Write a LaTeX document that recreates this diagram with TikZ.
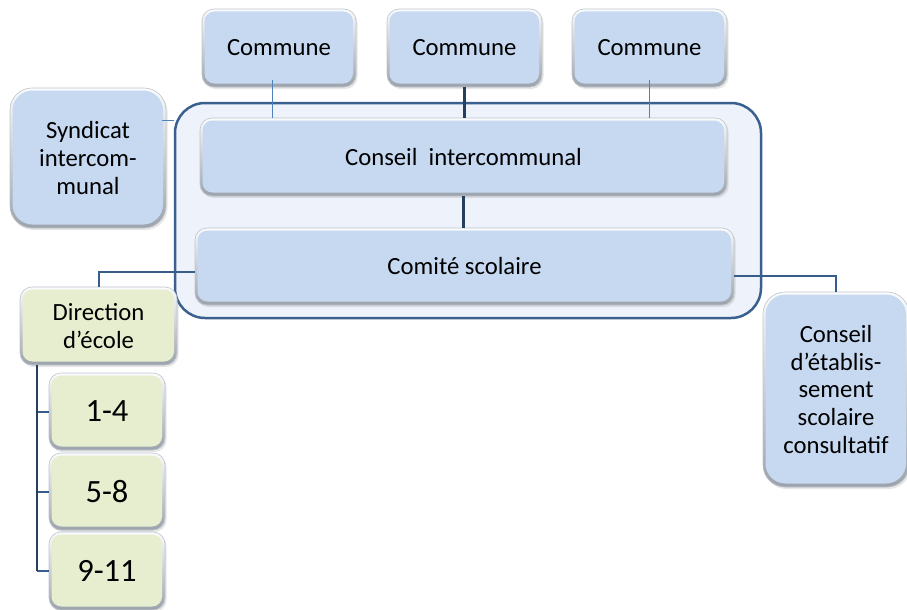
\documentclass[tikz,border=0pt]{standalone}
\usepackage{fontspec}
\setmainfont{Carlito}
\usetikzlibrary{shadows}
\definecolor{bluefill}{HTML}{C6D9F1}
\definecolor{greenfill}{HTML}{E6EECF}
\definecolor{rimtop}{HTML}{FAFBFC}
\definecolor{rimbot}{HTML}{9CA3AC}
\definecolor{rimline}{HTML}{BEC4CC}
\definecolor{contfill}{HTML}{EEF2FA}
\definecolor{contline}{HTML}{3A6090}
\definecolor{darkline}{HTML}{243F60}
\definecolor{thinblue}{HTML}{4F81BD}
\definecolor{midline}{HTML}{385D8A}
\begin{document}
\begin{tikzpicture}[x=1pt,y=-1pt,
  bev/.style n args={3}{rounded corners=#1, top color=rimtop, bottom color=rimbot,
    draw=rimline, line width=0.6pt, inner sep=0pt, align=center,
    font=\fontsize{24.7}{27.7}\selectfont,
    drop shadow={shadow xshift=1.5pt, shadow yshift=-2pt, opacity=0.2},
    path picture={\fill[#3, rounded corners=#2]
      ([shift={(2.5pt,-2.5pt)}]path picture bounding box.north west) rectangle
      ([shift={(-3pt,3.5pt)}]path picture bounding box.south east);}},
  bluebox/.style={bev={12pt}{10pt}{bluefill}},
  bigblue/.style={bev={22pt}{20pt}{bluefill}},
  greenbox/.style={bev={12pt}{10pt}{greenfill}},
  thinc/.style={draw=thinblue, line width=1pt},
  thickc/.style={draw=darkline, line width=3pt},
  midc/.style={draw=midline, line width=2pt},
  treec/.style={draw=darkline, line width=2.5pt},
]
\useasboundingbox (0,0) rectangle (907,610);

% container
\node[draw=contline, fill=contfill, line width=2.5pt, rounded corners=30pt,
  minimum width=586pt, minimum height=215pt, inner sep=0pt] (cont) at (468,210.5) {};

% communes
\node[bluebox, minimum width=154pt, minimum height=78pt] (c1) at (279,48) {Commune};
\node[bluebox, minimum width=155pt, minimum height=78pt] (c2) at (464.5,48) {Commune};
\node[bluebox, minimum width=155pt, minimum height=78pt] (c3) at (649.5,48) {Commune};

% syndicat
\node[bigblue, minimum width=156pt, minimum height=140pt] (syn) at (88,158) {Syndicat\\intercom-\\munal};

% councils
\node[bluebox, minimum width=527pt, minimum height=78pt] (ci) at (463.5,157) {Conseil\ \ intercommunal};
\node[bluebox, minimum width=539pt, minimum height=77pt] (cs) at (464.5,266.5) {Comité scolaire};

% direction and grades
\node[greenbox, minimum width=157pt, minimum height=78pt] (dir) at (98.5,326) {Direction\\d’école};
\node[greenbox, minimum width=116pt, minimum height=77pt, font=\fontsize{32.5}{36}\selectfont] (g1) at (107,411.5) {1-4};
\node[greenbox, minimum width=116pt, minimum height=77pt, font=\fontsize{32.5}{36}\selectfont] (g2) at (107,491.5) {5-8};
\node[greenbox, minimum width=116pt, minimum height=78pt, font=\fontsize{32.5}{36}\selectfont] (g3) at (107,571) {9-11};

% conseil d'etablissement
\node[bigblue, minimum width=146pt, minimum height=195pt] (ce) at (836,389.5) {Conseil\\d’établis-\\sement\\scolaire\\consultatif};

% connectors
\draw[thinc] ([xshift=-7pt,yshift=7pt]c1.south) -- ([xshift=-7pt]c1.south |- ci.north);
\draw[thickc] (c2.south) -- (c2.south |- ci.north);
\draw[thinc] ([yshift=7pt]c3.south) -- (c3.south |- ci.north);
\draw[thickc] (ci.south) -- (ci.south |- cs.north);
\coordinate (synout) at (162,120);
\draw[thinc] (synout) -- (synout -| cont.west);
\draw[midc] ([yshift=-5.5pt]cs.west) -| (dir.north);
\draw[midc] ([yshift=-9.5pt]cs.east) -| (ce.north);
\path (dir.south) ++(-61.5,0) coordinate (trunk);
\draw[midc] (trunk |- g1.west) -- (g1.west);
\draw[midc] (trunk |- g2.west) -- (g2.west);
\draw[midc] (trunk |- g3.west) -- (g3.west);
\draw[treec] (trunk) -- (trunk |- g3.west);
\end{tikzpicture}
\end{document}
